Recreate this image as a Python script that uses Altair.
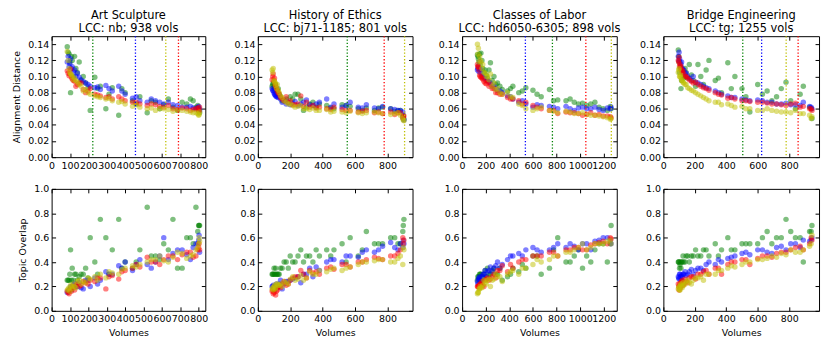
import altair as alt
import pandas as pd

FONT = "DejaVu Sans"

TITLES = [
    ["Art Sculpture", "LCC: nb; 938 vols"],
    ["History of Ethics", "LCC: bj71-1185; 801 vols"],
    ["Classes of Labor", "LCC: hd6050-6305; 898 vols"],
    ["Bridge Engineering", "LCC: tg; 1255 vols"],
]
METHODS = ["g", "b", "r", "y"]
COLORS = ["#008000", "#0000ff", "#ff0000", "#bfbf00"]
X_MAX = [836, 955, 1310, 990]
X_TICKS = [
    [0, 100, 200, 300, 400, 500, 600, 700, 800],
    [0, 200, 400, 600, 800],
    [0, 200, 400, 600, 800, 1000, 1200],
    [0, 200, 400, 600, 800],
]
Y_TICKS_DIST = [0.0, 0.02, 0.04, 0.06, 0.08, 0.10, 0.12, 0.14]
Y_TICKS_OVER = [0.0, 0.2, 0.4, 0.6, 0.8, 1.0]
WIDTHS = [155, 156, 156, 157]
HEIGHTS = [122, 123]

# ---- Art Sculpture ----
VOLS_ART = [85, 95, 103, 112, 125, 140, 160, 185, 210, 235, 265, 295, 330, 365, 400, 440, 480, 520, 565, 610, 660, 710, 755, 785, 800, 805]
DIST_ART_G = [0.137, 0.128, 0.080, 0.120, 0.125, 0.105, 0.095, 0.092, 0.058, 0.099, 0.088, 0.060, 0.086, 0.052, 0.080, 0.070, 0.075, 0.055, 0.068, 0.065, 0.062, 0.068, 0.072, 0.062, 0.058, 0.055]
DIST_ART_B = [0.118, 0.112, 0.122, 0.112, 0.108, 0.104, 0.096, 0.092, 0.088, 0.086, 0.084, 0.089, 0.082, 0.088, 0.078, 0.073, 0.070, 0.068, 0.070, 0.066, 0.065, 0.062, 0.063, 0.060, 0.063, 0.058]
DIST_ART_R = [0.107, 0.101, 0.109, 0.097, 0.094, 0.090, 0.092, 0.080, 0.085, 0.078, 0.076, 0.074, 0.072, 0.075, 0.070, 0.068, 0.066, 0.064, 0.065, 0.062, 0.060, 0.061, 0.058, 0.060, 0.057, 0.062]
DIST_ART_Y = [0.131, 0.110, 0.103, 0.100, 0.098, 0.093, 0.088, 0.084, 0.078, 0.076, 0.074, 0.072, 0.070, 0.068, 0.066, 0.063, 0.062, 0.060, 0.058, 0.060, 0.057, 0.058, 0.056, 0.055, 0.052, 0.056]
OVER_ART_G = [0.25, 0.25, 0.50, 0.35, 0.30, 0.25, 0.30, 0.35, 0.60, 0.40, 0.75, 0.60, 0.50, 0.75, 0.40, 0.35, 0.50, 0.85, 0.45, 0.55, 0.75, 0.35, 0.60, 0.85, 0.70, 0.70]
OVER_ART_B = [0.15, 0.17, 0.20, 0.19, 0.22, 0.20, 0.19, 0.25, 0.20, 0.27, 0.25, 0.32, 0.30, 0.37, 0.40, 0.33, 0.42, 0.38, 0.40, 0.60, 0.47, 0.50, 0.42, 0.55, 0.58, 0.48]
OVER_ART_R = [0.16, 0.14, 0.18, 0.20, 0.17, 0.22, 0.21, 0.23, 0.25, 0.24, 0.27, 0.18, 0.29, 0.26, 0.33, 0.35, 0.36, 0.44, 0.40, 0.42, 0.45, 0.46, 0.48, 0.45, 0.52, 0.50]
OVER_ART_Y = [0.17, 0.19, 0.21, 0.18, 0.20, 0.24, 0.22, 0.23, 0.26, 0.28, 0.30, 0.27, 0.31, 0.30, 0.35, 0.37, 0.38, 0.40, 0.42, 0.41, 0.44, 0.47, 0.45, 0.50, 0.55, 0.57]
VOLS_ART_2 = [90, 99, 108, 118, 132, 150, 172, 198, 250, 312, 382, 460, 542, 588, 635, 685, 735, 770, 795, 802]
DIST_ART_G_2 = [0.130, 0.118, 0.125, 0.100, 0.110, 0.118, 0.100, 0.086, 0.085, 0.078, 0.085, 0.066, 0.070, 0.060, 0.072, 0.058, 0.066, 0.070, 0.064, 0.060]
DIST_ART_B_2 = [0.125, 0.116, 0.110, 0.106, 0.100, 0.099, 0.094, 0.090, 0.087, 0.085, 0.082, 0.075, 0.072, 0.068, 0.068, 0.064, 0.062, 0.061, 0.062, 0.060]
DIST_ART_R_2 = [0.104, 0.103, 0.099, 0.095, 0.088, 0.092, 0.084, 0.082, 0.077, 0.075, 0.072, 0.068, 0.066, 0.063, 0.064, 0.059, 0.060, 0.059, 0.061, 0.058]
DIST_ART_Y_2 = [0.120, 0.105, 0.102, 0.096, 0.095, 0.090, 0.082, 0.080, 0.075, 0.073, 0.069, 0.065, 0.061, 0.060, 0.059, 0.058, 0.057, 0.055, 0.054, 0.053]
OVER_ART_G_2 = [0.25, 0.30, 0.25, 0.25, 0.30, 0.28, 0.30, 0.27, 0.30, 0.30, 0.35, 0.40, 0.45, 0.42, 0.50, 0.35, 0.60, 0.55, 0.65, 0.70]
OVER_ART_B_2 = [0.16, 0.18, 0.17, 0.21, 0.20, 0.23, 0.18, 0.25, 0.22, 0.30, 0.35, 0.38, 0.35, 0.45, 0.42, 0.50, 0.46, 0.52, 0.55, 0.62]
OVER_ART_R_2 = [0.15, 0.17, 0.16, 0.19, 0.21, 0.20, 0.24, 0.22, 0.27, 0.28, 0.32, 0.38, 0.40, 0.38, 0.45, 0.42, 0.48, 0.44, 0.50, 0.55]
OVER_ART_Y_2 = [0.18, 0.16, 0.20, 0.22, 0.19, 0.25, 0.24, 0.27, 0.25, 0.32, 0.34, 0.36, 0.42, 0.45, 0.40, 0.48, 0.43, 0.46, 0.52, 0.60]
RULES_ART = [224, 456, 621, 690]
RULES_ART_C = ["g", "b", "y", "r"]

# ---- History of Ethics ----
VOLS_ETH = [88, 95, 103, 110, 120, 132, 150, 175, 200, 230, 265, 300, 340, 380, 425, 470, 520, 570, 620, 670, 720, 770, 820, 865, 895, 902]
DIST_ETH_G = [0.088, 0.092, 0.085, 0.090, 0.083, 0.078, 0.070, 0.072, 0.075, 0.078, 0.072, 0.062, 0.068, 0.066, 0.064, 0.060, 0.065, 0.063, 0.060, 0.061, 0.058, 0.062, 0.060, 0.058, 0.050, 0.047]
DIST_ETH_B = [0.085, 0.082, 0.078, 0.076, 0.075, 0.076, 0.068, 0.066, 0.065, 0.069, 0.066, 0.071, 0.064, 0.068, 0.072, 0.066, 0.062, 0.068, 0.062, 0.065, 0.061, 0.063, 0.060, 0.058, 0.056, 0.046]
DIST_ETH_R = [0.096, 0.103, 0.098, 0.088, 0.082, 0.078, 0.072, 0.075, 0.070, 0.065, 0.076, 0.068, 0.064, 0.062, 0.060, 0.062, 0.059, 0.058, 0.056, 0.058, 0.055, 0.054, 0.056, 0.055, 0.049, 0.051]
DIST_ETH_Y = [0.108, 0.110, 0.094, 0.089, 0.090, 0.080, 0.074, 0.068, 0.066, 0.062, 0.064, 0.060, 0.061, 0.058, 0.059, 0.057, 0.056, 0.057, 0.055, 0.055, 0.056, 0.054, 0.053, 0.055, 0.048, 0.045]
OVER_ETH_G = [0.30, 0.30, 0.30, 0.35, 0.30, 0.30, 0.35, 0.40, 0.45, 0.40, 0.50, 0.45, 0.40, 0.45, 0.50, 0.50, 0.55, 0.60, 0.45, 0.65, 0.55, 0.55, 0.60, 0.55, 0.65, 0.75]
OVER_ETH_B = [0.20, 0.21, 0.17, 0.20, 0.19, 0.22, 0.18, 0.24, 0.25, 0.27, 0.23, 0.30, 0.28, 0.33, 0.40, 0.42, 0.40, 0.45, 0.44, 0.50, 0.48, 0.53, 0.56, 0.50, 0.52, 0.55]
OVER_ETH_R = [0.16, 0.14, 0.18, 0.13, 0.17, 0.20, 0.22, 0.21, 0.25, 0.28, 0.33, 0.27, 0.31, 0.30, 0.35, 0.34, 0.38, 0.36, 0.40, 0.42, 0.44, 0.42, 0.45, 0.47, 0.60, 0.58]
OVER_ETH_Y = [0.18, 0.17, 0.21, 0.19, 0.22, 0.21, 0.20, 0.23, 0.26, 0.25, 0.29, 0.27, 0.30, 0.33, 0.32, 0.35, 0.33, 0.36, 0.38, 0.40, 0.41, 0.42, 0.40, 0.43, 0.38, 0.50]
VOLS_ETH_2 = [92, 100, 107, 115, 126, 140, 162, 188, 215, 248, 282, 320, 360, 450, 545, 645, 745, 845, 880, 898]
DIST_ETH_G_2 = [0.090, 0.087, 0.082, 0.080, 0.085, 0.075, 0.070, 0.068, 0.072, 0.078, 0.058, 0.066, 0.062, 0.061, 0.064, 0.058, 0.061, 0.057, 0.058, 0.052]
DIST_ETH_B_2 = [0.083, 0.080, 0.077, 0.075, 0.074, 0.072, 0.070, 0.068, 0.067, 0.064, 0.068, 0.065, 0.066, 0.062, 0.064, 0.061, 0.060, 0.059, 0.058, 0.048]
DIST_ETH_R_2 = [0.100, 0.095, 0.090, 0.085, 0.080, 0.074, 0.070, 0.068, 0.065, 0.066, 0.063, 0.062, 0.061, 0.059, 0.058, 0.057, 0.056, 0.053, 0.055, 0.050]
DIST_ETH_Y_2 = [0.105, 0.095, 0.092, 0.085, 0.083, 0.076, 0.070, 0.066, 0.064, 0.063, 0.060, 0.059, 0.058, 0.056, 0.055, 0.054, 0.055, 0.054, 0.052, 0.046]
OVER_ETH_G_2 = [0.30, 0.35, 0.30, 0.30, 0.30, 0.35, 0.40, 0.35, 0.40, 0.45, 0.40, 0.45, 0.50, 0.45, 0.40, 0.50, 0.55, 0.60, 0.55, 0.70]
OVER_ETH_B_2 = [0.20, 0.18, 0.20, 0.22, 0.20, 0.25, 0.22, 0.24, 0.26, 0.28, 0.30, 0.35, 0.36, 0.42, 0.45, 0.48, 0.50, 0.52, 0.55, 0.58]
OVER_ETH_R_2 = [0.17, 0.15, 0.19, 0.16, 0.20, 0.19, 0.24, 0.22, 0.27, 0.28, 0.30, 0.33, 0.32, 0.36, 0.38, 0.40, 0.43, 0.45, 0.50, 0.55]
OVER_ETH_Y_2 = [0.19, 0.20, 0.18, 0.22, 0.21, 0.22, 0.24, 0.22, 0.28, 0.26, 0.25, 0.32, 0.30, 0.34, 0.35, 0.40, 0.42, 0.40, 0.45, 0.52]
RULES_ETH = [552, 780, 906]
RULES_ETH_C = ["g", "r", "y"]

# ---- Classes of Labor ----
VOLS_LAB = [130, 138, 148, 160, 175, 195, 215, 240, 270, 300, 340, 385, 430, 480, 540, 600, 670, 740, 810, 880, 950, 1020, 1090, 1160, 1230, 1262]
DIST_LAB_G = [0.127, 0.122, 0.128, 0.129, 0.110, 0.108, 0.098, 0.117, 0.100, 0.092, 0.084, 0.082, 0.088, 0.080, 0.086, 0.083, 0.075, 0.084, 0.071, 0.070, 0.068, 0.067, 0.066, 0.062, 0.058, 0.060]
DIST_LAB_B = [0.108, 0.113, 0.118, 0.104, 0.100, 0.098, 0.095, 0.092, 0.088, 0.083, 0.080, 0.076, 0.072, 0.068, 0.066, 0.062, 0.064, 0.063, 0.060, 0.063, 0.058, 0.062, 0.060, 0.059, 0.061, 0.062]
DIST_LAB_R = [0.115, 0.112, 0.102, 0.099, 0.097, 0.092, 0.094, 0.090, 0.085, 0.080, 0.078, 0.074, 0.072, 0.070, 0.068, 0.064, 0.060, 0.058, 0.054, 0.056, 0.055, 0.052, 0.055, 0.053, 0.051, 0.049]
DIST_LAB_Y = [0.140, 0.135, 0.125, 0.118, 0.115, 0.104, 0.100, 0.103, 0.092, 0.085, 0.078, 0.080, 0.074, 0.066, 0.060, 0.058, 0.062, 0.058, 0.055, 0.057, 0.054, 0.055, 0.052, 0.051, 0.049, 0.048]
OVER_LAB_G = [0.25, 0.28, 0.30, 0.30, 0.28, 0.33, 0.35, 0.30, 0.35, 0.30, 0.25, 0.28, 0.35, 0.32, 0.35, 0.45, 0.30, 0.35, 0.60, 0.40, 0.45, 0.35, 0.40, 0.55, 0.40, 0.70]
OVER_LAB_B = [0.24, 0.26, 0.28, 0.25, 0.30, 0.33, 0.32, 0.36, 0.35, 0.40, 0.38, 0.42, 0.45, 0.47, 0.50, 0.52, 0.48, 0.50, 0.55, 0.52, 0.53, 0.55, 0.50, 0.58, 0.60, 0.55]
OVER_LAB_R = [0.20, 0.20, 0.19, 0.22, 0.21, 0.25, 0.27, 0.26, 0.30, 0.33, 0.37, 0.32, 0.35, 0.40, 0.42, 0.45, 0.45, 0.48, 0.45, 0.50, 0.52, 0.50, 0.54, 0.56, 0.55, 0.59]
OVER_LAB_Y = [0.14, 0.15, 0.18, 0.19, 0.21, 0.23, 0.25, 0.20, 0.26, 0.28, 0.24, 0.30, 0.33, 0.30, 0.35, 0.38, 0.40, 0.42, 0.45, 0.48, 0.50, 0.55, 0.52, 0.55, 0.57, 0.55]
VOLS_LAB_2 = [134, 143, 153, 168, 185, 205, 228, 255, 285, 320, 410, 510, 635, 775, 915, 985, 1055, 1125, 1195, 1255]
DIST_LAB_G_2 = [0.125, 0.118, 0.115, 0.120, 0.105, 0.102, 0.108, 0.095, 0.090, 0.088, 0.085, 0.082, 0.078, 0.070, 0.072, 0.066, 0.064, 0.068, 0.060, 0.063]
DIST_LAB_B_2 = [0.110, 0.106, 0.109, 0.100, 0.098, 0.095, 0.093, 0.088, 0.085, 0.082, 0.075, 0.070, 0.065, 0.062, 0.060, 0.061, 0.060, 0.062, 0.058, 0.060]
DIST_LAB_R_2 = [0.112, 0.108, 0.100, 0.098, 0.094, 0.091, 0.088, 0.085, 0.080, 0.078, 0.072, 0.066, 0.062, 0.058, 0.055, 0.054, 0.053, 0.052, 0.051, 0.050]
DIST_LAB_Y_2 = [0.128, 0.118, 0.120, 0.110, 0.105, 0.100, 0.096, 0.088, 0.084, 0.080, 0.075, 0.064, 0.060, 0.057, 0.056, 0.054, 0.053, 0.052, 0.050, 0.047]
OVER_LAB_G_2 = [0.28, 0.25, 0.30, 0.25, 0.30, 0.28, 0.30, 0.33, 0.30, 0.35, 0.30, 0.38, 0.45, 0.50, 0.40, 0.50, 0.45, 0.50, 0.55, 0.55]
OVER_LAB_B_2 = [0.22, 0.27, 0.25, 0.28, 0.30, 0.28, 0.33, 0.32, 0.37, 0.35, 0.45, 0.45, 0.50, 0.52, 0.55, 0.50, 0.55, 0.57, 0.60, 0.58]
OVER_LAB_R_2 = [0.20, 0.21, 0.22, 0.24, 0.20, 0.26, 0.25, 0.28, 0.27, 0.33, 0.38, 0.42, 0.45, 0.48, 0.50, 0.52, 0.50, 0.55, 0.57, 0.60]
OVER_LAB_Y_2 = [0.15, 0.18, 0.20, 0.19, 0.25, 0.22, 0.26, 0.25, 0.30, 0.28, 0.32, 0.35, 0.42, 0.45, 0.48, 0.52, 0.50, 0.55, 0.55, 0.58]
RULES_LAB = [536, 765, 1048, 1264]
RULES_LAB_C = ["b", "g", "r", "y"]

# ---- Bridge Engineering ----
VOLS_BRI = [95, 100, 106, 112, 120, 130, 145, 165, 190, 220, 255, 290, 330, 370, 410, 455, 500, 550, 600, 660, 720, 780, 840, 890, 930, 945]
DIST_BRI_G = [0.133, 0.118, 0.110, 0.085, 0.108, 0.098, 0.105, 0.115, 0.095, 0.115, 0.090, 0.120, 0.095, 0.080, 0.117, 0.100, 0.085, 0.056, 0.090, 0.082, 0.075, 0.093, 0.060, 0.088, 0.062, 0.048]
DIST_BRI_B = [0.125, 0.130, 0.118, 0.115, 0.110, 0.108, 0.104, 0.098, 0.100, 0.092, 0.088, 0.085, 0.082, 0.078, 0.076, 0.074, 0.072, 0.070, 0.071, 0.068, 0.066, 0.067, 0.065, 0.068, 0.063, 0.060]
DIST_BRI_R = [0.120, 0.124, 0.115, 0.112, 0.105, 0.103, 0.100, 0.096, 0.092, 0.090, 0.086, 0.083, 0.080, 0.077, 0.073, 0.072, 0.070, 0.069, 0.068, 0.067, 0.066, 0.064, 0.067, 0.063, 0.060, 0.058]
DIST_BRI_Y = [0.105, 0.110, 0.100, 0.098, 0.095, 0.092, 0.090, 0.085, 0.082, 0.078, 0.074, 0.070, 0.068, 0.065, 0.066, 0.062, 0.063, 0.060, 0.058, 0.060, 0.057, 0.056, 0.058, 0.054, 0.052, 0.050]
OVER_BRI_G = [0.40, 0.40, 0.38, 0.35, 0.40, 0.40, 0.45, 0.40, 0.45, 0.45, 0.50, 0.45, 0.55, 0.50, 0.60, 0.50, 0.55, 0.55, 0.55, 0.65, 0.60, 0.75, 0.60, 0.40, 0.65, 0.70]
OVER_BRI_B = [0.28, 0.26, 0.30, 0.25, 0.28, 0.30, 0.29, 0.32, 0.30, 0.35, 0.33, 0.40, 0.38, 0.40, 0.43, 0.45, 0.47, 0.46, 0.50, 0.48, 0.52, 0.50, 0.55, 0.58, 0.57, 0.60]
OVER_BRI_R = [0.22, 0.17, 0.20, 0.23, 0.25, 0.22, 0.24, 0.27, 0.28, 0.30, 0.32, 0.30, 0.35, 0.30, 0.38, 0.40, 0.42, 0.38, 0.43, 0.45, 0.47, 0.48, 0.52, 0.50, 0.55, 0.58]
OVER_BRI_Y = [0.18, 0.20, 0.17, 0.22, 0.19, 0.21, 0.24, 0.23, 0.25, 0.27, 0.25, 0.30, 0.30, 0.33, 0.35, 0.36, 0.38, 0.40, 0.42, 0.43, 0.44, 0.46, 0.48, 0.50, 0.53, 0.62]
VOLS_BRI_2 = [98, 103, 109, 116, 125, 138, 155, 178, 205, 238, 272, 350, 432, 525, 630, 690, 750, 810, 870, 940]
DIST_BRI_G_2 = [0.125, 0.105, 0.112, 0.095, 0.100, 0.110, 0.098, 0.102, 0.088, 0.100, 0.108, 0.098, 0.085, 0.075, 0.078, 0.070, 0.085, 0.070, 0.078, 0.060]
DIST_BRI_B_2 = [0.120, 0.122, 0.112, 0.118, 0.108, 0.104, 0.100, 0.095, 0.093, 0.090, 0.086, 0.080, 0.074, 0.071, 0.070, 0.068, 0.066, 0.065, 0.064, 0.062]
DIST_BRI_R_2 = [0.118, 0.113, 0.110, 0.108, 0.107, 0.100, 0.098, 0.094, 0.093, 0.088, 0.085, 0.078, 0.074, 0.070, 0.068, 0.066, 0.065, 0.066, 0.062, 0.060]
DIST_BRI_Y_2 = [0.108, 0.100, 0.102, 0.095, 0.093, 0.090, 0.086, 0.083, 0.080, 0.076, 0.072, 0.068, 0.064, 0.060, 0.058, 0.058, 0.056, 0.055, 0.054, 0.048]
OVER_BRI_G_2 = [0.40, 0.35, 0.40, 0.40, 0.45, 0.40, 0.45, 0.45, 0.50, 0.45, 0.50, 0.45, 0.50, 0.55, 0.60, 0.55, 0.60, 0.65, 0.60, 0.65]
OVER_BRI_B_2 = [0.27, 0.30, 0.28, 0.29, 0.30, 0.32, 0.30, 0.34, 0.33, 0.35, 0.38, 0.42, 0.44, 0.48, 0.50, 0.47, 0.53, 0.55, 0.52, 0.58]
OVER_BRI_R_2 = [0.20, 0.22, 0.19, 0.24, 0.21, 0.26, 0.23, 0.28, 0.26, 0.30, 0.33, 0.35, 0.40, 0.42, 0.45, 0.44, 0.48, 0.50, 0.53, 0.60]
OVER_BRI_Y_2 = [0.19, 0.17, 0.21, 0.20, 0.23, 0.22, 0.25, 0.22, 0.27, 0.28, 0.30, 0.33, 0.37, 0.40, 0.42, 0.45, 0.47, 0.50, 0.48, 0.55]
RULES_BRI = [505, 625, 781, 857]
RULES_BRI_C = ["g", "b", "y", "r"]

# batches per panel: (volumes, [dist g,b,r,y], [overlap g,b,r,y])
BATCHES = [
    [
        (VOLS_ART, [DIST_ART_G, DIST_ART_B, DIST_ART_R, DIST_ART_Y], [OVER_ART_G, OVER_ART_B, OVER_ART_R, OVER_ART_Y]),
        (VOLS_ART_2, [DIST_ART_G_2, DIST_ART_B_2, DIST_ART_R_2, DIST_ART_Y_2], [OVER_ART_G_2, OVER_ART_B_2, OVER_ART_R_2, OVER_ART_Y_2]),
    ],
    [
        (VOLS_ETH, [DIST_ETH_G, DIST_ETH_B, DIST_ETH_R, DIST_ETH_Y], [OVER_ETH_G, OVER_ETH_B, OVER_ETH_R, OVER_ETH_Y]),
        (VOLS_ETH_2, [DIST_ETH_G_2, DIST_ETH_B_2, DIST_ETH_R_2, DIST_ETH_Y_2], [OVER_ETH_G_2, OVER_ETH_B_2, OVER_ETH_R_2, OVER_ETH_Y_2]),
    ],
    [
        (VOLS_LAB, [DIST_LAB_G, DIST_LAB_B, DIST_LAB_R, DIST_LAB_Y], [OVER_LAB_G, OVER_LAB_B, OVER_LAB_R, OVER_LAB_Y]),
        (VOLS_LAB_2, [DIST_LAB_G_2, DIST_LAB_B_2, DIST_LAB_R_2, DIST_LAB_Y_2], [OVER_LAB_G_2, OVER_LAB_B_2, OVER_LAB_R_2, OVER_LAB_Y_2]),
    ],
    [
        (VOLS_BRI, [DIST_BRI_G, DIST_BRI_B, DIST_BRI_R, DIST_BRI_Y], [OVER_BRI_G, OVER_BRI_B, OVER_BRI_R, OVER_BRI_Y]),
        (VOLS_BRI_2, [DIST_BRI_G_2, DIST_BRI_B_2, DIST_BRI_R_2, DIST_BRI_Y_2], [OVER_BRI_G_2, OVER_BRI_B_2, OVER_BRI_R_2, OVER_BRI_Y_2]),
    ],
]
RULES = [RULES_ART, RULES_ETH, RULES_LAB, RULES_BRI]
RULES_C = [RULES_ART_C, RULES_ETH_C, RULES_LAB_C, RULES_BRI_C]

rows = []
for k in range(4):
    for mi, m in enumerate(METHODS):
        for vols, dists, overs in BATCHES[k]:
            d, o = dists[mi], overs[mi]
            if not (len(d) == len(o) == len(vols)):
                raise ValueError(f"length mismatch panel {k} method {m}")
            for i, v in enumerate(vols):
                rows.append({"panel": k, "m": m, "order": mi, "vol": v, "dist": d[i], "over": o[i]})
df = pd.DataFrame(rows)

rule_rows = []
for k in range(4):
    for x, c in zip(RULES[k], RULES_C[k]):
        rule_rows.append({"panel": k, "rx": x, "m": c})
rdf = pd.DataFrame(rule_rows)

color = alt.Color("m:N", scale=alt.Scale(domain=METHODS, range=COLORS), legend=None)


def panel(k, row):
    sub = df[df.panel == k]
    field = "dist" if row == 0 else "over"
    xs = alt.Scale(domain=[0, X_MAX[k]], nice=False, zero=False)
    ys = alt.Scale(domain=[0, 0.15] if row == 0 else [0, 1.0], nice=False, zero=False)
    yt = Y_TICKS_DIST if row == 0 else Y_TICKS_OVER
    yfmt = ".2f" if row == 0 else ".1f"
    xtitle = "Volumes" if row == 1 else None
    ytitle = ["Alignment Distance", "Topic Overlap"][row] if k == 0 else None

    xaxis = alt.Axis(values=X_TICKS[k], format="d", orient="bottom", offset=-4, tickSize=4,
                     domain=False, grid=False, labelPadding=3, labelOverlap=False,
                     labelFlush=False, labelBound=False, title=xtitle, titlePadding=4)
    yaxis = alt.Axis(values=yt, format=yfmt, orient="left", offset=-4, tickSize=4,
                     domain=False, grid=False, labelPadding=3, labelOverlap=False,
                     labelFlush=False, labelBound=False, title=ytitle, titlePadding=6)
    xaxis2 = alt.Axis(values=X_TICKS[k], orient="top", offset=-4, tickSize=4, labels=False,
                      domain=False, grid=False, title=None)
    yaxis2 = alt.Axis(values=yt, orient="right", offset=-4, tickSize=4, labels=False,
                      domain=False, grid=False, title=None)

    base = alt.Chart(sub)
    pts = base.mark_circle(size=30, opacity=0.5).encode(
        x=alt.X("vol:Q", scale=xs, axis=xaxis),
        y=alt.Y(f"{field}:Q", scale=ys, axis=yaxis),
        color=color,
        order=alt.Order("order:Q"),
    )
    ghost = base.mark_circle(opacity=0).encode(
        x=alt.X("vol:Q", scale=xs, axis=xaxis2),
        y=alt.Y(f"{field}:Q", scale=ys, axis=yaxis2),
    )
    layers = [pts, ghost]
    if row == 0:
        rules = alt.Chart(rdf[rdf.panel == k]).mark_rule(strokeDash=[1.3, 2], strokeWidth=1.3).encode(
            x=alt.X("rx:Q", scale=xs, axis=None),
            color=color,
        )
        layers.append(rules)
    ch = alt.layer(*layers).resolve_axis(x="independent", y="independent").properties(
        width=WIDTHS[k], height=HEIGHTS[row]
    )
    if row == 0:
        ch = ch.properties(title=alt.TitleParams(text=TITLES[k]))
    return ch


cols = [alt.vconcat(panel(k, 0), panel(k, 1), spacing=13) for k in range(4)]
left = alt.hconcat(cols[0], cols[1], spacing=25)
right = alt.hconcat(cols[2], cols[3], spacing=17)
chart = (
    alt.hconcat(left, right, spacing=24)
    .properties(padding={"left": 3, "top": 0, "right": 2, "bottom": 2}, background="white")
    .configure_axis(labelFont=FONT, titleFont=FONT, labelFontSize=9.5, titleFontSize=9.5,
                    labelColor="black", titleColor="black", tickColor="black",
                    titleFontWeight="normal", tickWidth=1)
    .configure_title(font=FONT, fontSize=11.5, fontWeight="normal", color="black",
                     offset=1, lineHeight=13, anchor="middle")
    .configure_view(stroke="black", strokeWidth=1)
)

chart.save("out.html", embed_options={"renderer": "svg", "actions": False})
